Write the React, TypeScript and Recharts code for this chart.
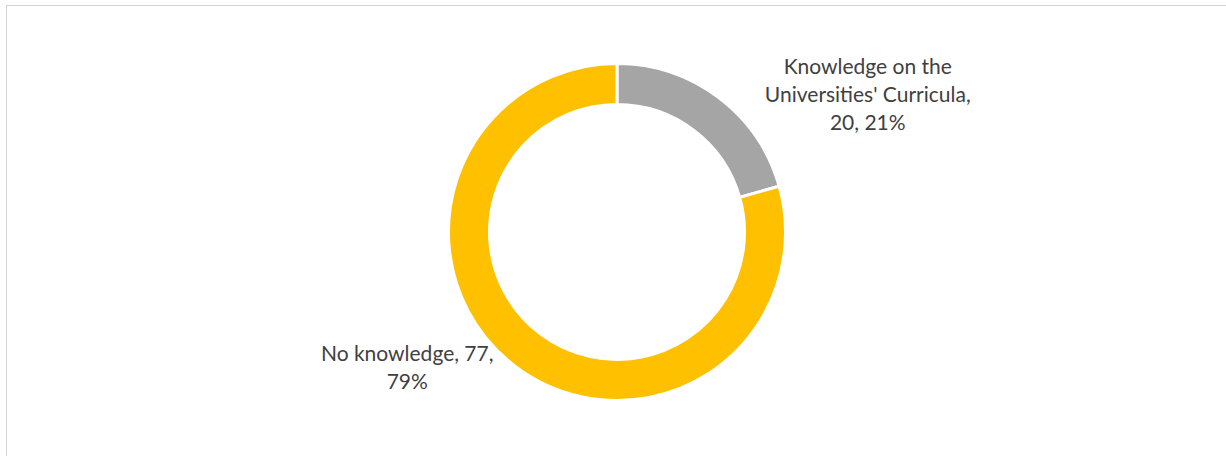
import React from "react";
import { PieChart, Pie, Cell } from "recharts";

const categories = ["Knowledge on the Universities' Curricula", "No knowledge"];
const values = [20, 77];
const colors = ["#A5A5A5", "#FFC000"];
const labelWrapChars = [24, 17];
const labelShiftX = [150, -109];
const labelShiftY = [-6, 1];

const data = categories.map((name, i) => ({ name, value: values[i] }));

const RAD = Math.PI / 180;
const FONT = "Lato, 'Open Sans', sans-serif";
const FONT_SIZE = 21;
const LINE_H = 28;

function wrap(text: string, maxChars: number): string[] {
  const words = text.split(" ");
  const lines: string[] = [];
  let cur = "";
  for (const w of words) {
    const next = cur ? cur + " " + w : w;
    if (next.length > maxChars && cur) {
      lines.push(cur);
      cur = w;
    } else {
      cur = next;
    }
  }
  if (cur) lines.push(cur);
  return lines;
}

const renderLabel = (props: any) => {
  const { cx, cy, midAngle, index, value, percent, name } = props;
  const r = 167;
  const ax = cx + r * Math.cos(-midAngle * RAD);
  const ay = cy + r * Math.sin(-midAngle * RAD);
  const x = ax + labelShiftX[index];
  const y = ay + labelShiftY[index];
  const text = `${name}, ${value}, ${Math.round(percent * 100)}%`;
  const lines = wrap(text, labelWrapChars[index]);
  const startY = y - ((lines.length - 1) * LINE_H) / 2;
  return (
    <text
      x={x}
      y={startY}
      textAnchor="middle"
      dominantBaseline="central"
      fill="#404040"
      style={{ fontFamily: FONT, fontSize: FONT_SIZE }}
    >
      {lines.map((l, i) => (
        <tspan key={i} x={x} y={startY + i * LINE_H} dominantBaseline="central">
          {l}
        </tspan>
      ))}
    </text>
  );
};

export default function App() {
  return (
    <div style={{ position: "absolute", left: 0, top: 0, width: 1226, height: 456, background: "#fff", overflow: "hidden" }}>
      <div
        style={{
          position: "absolute",
          left: 6,
          top: 5,
          width: 1240,
          height: 470,
          border: "1px solid #d4d4d4",
          boxSizing: "border-box",
        }}
      />
      <div style={{ position: "absolute", left: 0, top: 0 }}>
        <PieChart width={1226} height={456} margin={{ top: 0, right: 0, bottom: 0, left: 0 }}>
          <Pie
            data={data}
            dataKey="value"
            nameKey="name"
            cx={617}
            cy={232}
            innerRadius={127.5}
            outerRadius={168.5}
            startAngle={90}
            endAngle={-270}
            stroke="#ffffff"
            strokeWidth={3}
            label={renderLabel}
            labelLine={false}
            isAnimationActive={false}
          >
            {data.map((d, i) => (
              <Cell key={d.name} fill={colors[i]} />
            ))}
          </Pie>
        </PieChart>
      </div>
    </div>
  );
}
